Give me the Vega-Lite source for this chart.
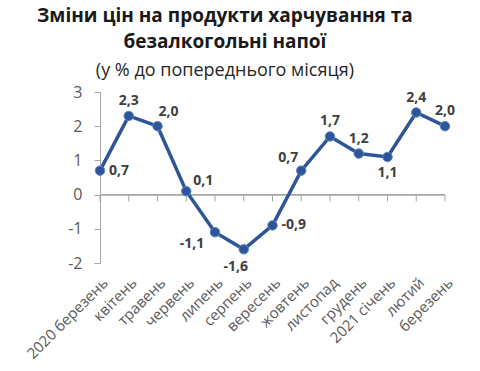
{
  "$schema": "https://vega.github.io/schema/vega-lite/v6.json",
  "width": 345,
  "height": 171,
  "padding": {"left": 24, "top": 7, "right": 5, "bottom": 5},
  "background": "white",
  "title": {
    "text": ["Зміни цін на продукти харчування та", "безалкогольні напої"],
    "subtitle": "(у % до попереднього місяця)",
    "font": "Open Sans",
    "fontSize": 19,
    "fontWeight": "bold",
    "color": "#1a1a1a",
    "lineHeight": 26,
    "subtitleFont": "Open Sans",
    "subtitleFontSize": 18,
    "subtitleColor": "#262626",
    "subtitlePadding": 10,
    "anchor": "middle",
    "frame": "bounds",
    "offset": 4,
    "dx": -15
  },
  "config": {
    "view": {"stroke": null},
    "locale": {
      "number": {"decimal": ",", "thousands": " ", "grouping": [3], "currency": ["", ""], "minus": "-"}
    },
    "axisX": {
      "labelAngle": -45,
      "domain": false,
      "ticks": false,
      "labelFont": "Open Sans",
      "labelFontSize": 15,
      "labelColor": "#595959",
      "labelPadding": 12,
      "title": null
    },
    "axisY": {
      "domainColor": "#A6A6A6",
      "tickColor": "#A6A6A6",
      "tickSize": 6,
      "labelPadding": 12,
      "labelFont": "Open Sans",
      "labelFontSize": 16,
      "labelColor": "#595959",
      "grid": false,
      "title": null,
      "labelOverlap": false
    }
  },
  "data": {
    "values": [
      {"month": "2020 березень", "value": 0.7},
      {"month": "квітень", "value": 2.3},
      {"month": "травень", "value": 2.0},
      {"month": "червень", "value": 0.1},
      {"month": "липень", "value": -1.1},
      {"month": "серпень", "value": -1.6},
      {"month": "вересень", "value": -0.9},
      {"month": "жовтень", "value": 0.7},
      {"month": "листопад", "value": 1.7},
      {"month": "грудень", "value": 1.2},
      {"month": "2021 січень", "value": 1.1},
      {"month": "лютий", "value": 2.4},
      {"month": "березень", "value": 2.0}
    ]
  },
  "layer": [
    {
      "mark": {"type": "rule", "color": "#A6A6A6", "strokeWidth": 1},
      "encoding": {
        "y": {"datum": 0, "type": "quantitative", "scale": {"domain": [-2, 3], "nice": false}, "axis": {"values": [-2, -1, 0, 1, 2, 3]}}
      }
    },
    {
      "mark": {"type": "rule", "color": "#A6A6A6", "strokeWidth": 1},
      "encoding": {
        "x": {"field": "month", "type": "nominal", "sort": null, "scale": {"type": "point", "padding": 0}},
        "y": {"datum": 0, "type": "quantitative", "axis": {"values": [-2, -1, 0, 1, 2, 3]}},
        "y2": {"datum": -0.2}
      }
    },
    {
      "mark": {"type": "line", "color": "#2E5597", "strokeWidth": 3.5},
      "encoding": {
        "x": {"field": "month", "type": "nominal", "sort": null, "scale": {"type": "point", "padding": 0}},
        "y": {"field": "value", "type": "quantitative", "axis": {"values": [-2, -1, 0, 1, 2, 3]}}
      }
    },
    {
      "mark": {"type": "point", "filled": true, "color": "#2E5597", "size": 90, "opacity": 1, "stroke": "#5B86C9", "strokeWidth": 1},
      "encoding": {
        "x": {"field": "month", "type": "nominal", "sort": null, "scale": {"type": "point", "padding": 0}},
        "y": {"field": "value", "type": "quantitative", "axis": {"values": [-2, -1, 0, 1, 2, 3]}}
      }
    },
    {
      "transform": [{"filter": {"field": "month", "oneOf": ["квітень", "листопад", "грудень", "лютий", "березень"]}}],
      "mark": {"type": "text", "font": "Open Sans", "fontSize": 14, "fontWeight": "bold", "color": "#404040", "dy": -15, "baseline": "middle", "align": "center"},
      "encoding": {
        "x": {"field": "month", "type": "nominal", "sort": null, "scale": {"type": "point", "padding": 0}},
        "y": {"field": "value", "type": "quantitative", "axis": {"values": [-2, -1, 0, 1, 2, 3]}},
        "text": {"field": "value", "type": "quantitative", "format": ".1f"}
      }
    },
    {
      "transform": [{"filter": {"field": "month", "oneOf": ["травень"]}}],
      "mark": {"type": "text", "font": "Open Sans", "fontSize": 14, "fontWeight": "bold", "color": "#404040", "dy": -14, "dx": 11, "baseline": "middle", "align": "center"},
      "encoding": {
        "x": {"field": "month", "type": "nominal", "sort": null, "scale": {"type": "point", "padding": 0}},
        "y": {"field": "value", "type": "quantitative", "axis": {"values": [-2, -1, 0, 1, 2, 3]}},
        "text": {"field": "value", "type": "quantitative", "format": ".1f"}
      }
    },
    {
      "transform": [{"filter": {"field": "month", "oneOf": ["жовтень"]}}],
      "mark": {"type": "text", "font": "Open Sans", "fontSize": 14, "fontWeight": "bold", "color": "#404040", "dy": -13, "dx": -13, "baseline": "middle", "align": "center"},
      "encoding": {
        "x": {"field": "month", "type": "nominal", "sort": null, "scale": {"type": "point", "padding": 0}},
        "y": {"field": "value", "type": "quantitative", "axis": {"values": [-2, -1, 0, 1, 2, 3]}},
        "text": {"field": "value", "type": "quantitative", "format": ".1f"}
      }
    },
    {
      "transform": [{"filter": {"field": "month", "oneOf": ["червень"]}}],
      "mark": {"type": "text", "font": "Open Sans", "fontSize": 14, "fontWeight": "bold", "color": "#404040", "dy": -10, "dx": 7, "baseline": "middle", "align": "left"},
      "encoding": {
        "x": {"field": "month", "type": "nominal", "sort": null, "scale": {"type": "point", "padding": 0}},
        "y": {"field": "value", "type": "quantitative", "axis": {"values": [-2, -1, 0, 1, 2, 3]}},
        "text": {"field": "value", "type": "quantitative", "format": ".1f"}
      }
    },
    {
      "transform": [{"filter": {"field": "month", "oneOf": ["2020 березень", "вересень"]}}],
      "mark": {"type": "text", "font": "Open Sans", "fontSize": 14, "fontWeight": "bold", "color": "#404040", "dx": 9, "baseline": "middle", "align": "left"},
      "encoding": {
        "x": {"field": "month", "type": "nominal", "sort": null, "scale": {"type": "point", "padding": 0}},
        "y": {"field": "value", "type": "quantitative", "axis": {"values": [-2, -1, 0, 1, 2, 3]}},
        "text": {"field": "value", "type": "quantitative", "format": ".1f"}
      }
    },
    {
      "transform": [{"filter": {"field": "month", "oneOf": ["2021 січень"]}}],
      "mark": {"type": "text", "font": "Open Sans", "fontSize": 14, "fontWeight": "bold", "color": "#404040", "dy": 16, "baseline": "middle", "align": "center"},
      "encoding": {
        "x": {"field": "month", "type": "nominal", "sort": null, "scale": {"type": "point", "padding": 0}},
        "y": {"field": "value", "type": "quantitative", "axis": {"values": [-2, -1, 0, 1, 2, 3]}},
        "text": {"field": "value", "type": "quantitative", "format": ".1f"}
      }
    },
    {
      "transform": [{"filter": {"field": "month", "oneOf": ["серпень"]}}],
      "mark": {"type": "text", "font": "Open Sans", "fontSize": 14, "fontWeight": "bold", "color": "#404040", "dy": 18, "dx": -8, "baseline": "middle", "align": "center"},
      "encoding": {
        "x": {"field": "month", "type": "nominal", "sort": null, "scale": {"type": "point", "padding": 0}},
        "y": {"field": "value", "type": "quantitative", "axis": {"values": [-2, -1, 0, 1, 2, 3]}},
        "text": {"field": "value", "type": "quantitative", "format": ".1f"}
      }
    },
    {
      "transform": [{"filter": {"field": "month", "oneOf": ["липень"]}}],
      "mark": {"type": "text", "font": "Open Sans", "fontSize": 14, "fontWeight": "bold", "color": "#404040", "dy": 12, "dx": -23, "baseline": "middle", "align": "center"},
      "encoding": {
        "x": {"field": "month", "type": "nominal", "sort": null, "scale": {"type": "point", "padding": 0}},
        "y": {"field": "value", "type": "quantitative", "axis": {"values": [-2, -1, 0, 1, 2, 3]}},
        "text": {"field": "value", "type": "quantitative", "format": ".1f"}
      }
    }
  ]
}
